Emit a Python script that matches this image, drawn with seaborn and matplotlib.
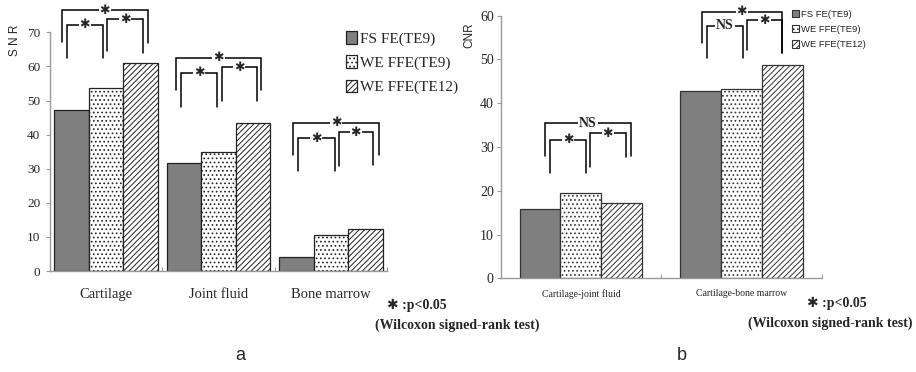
import matplotlib
matplotlib.use("Agg")
import matplotlib.pyplot as plt
import matplotlib.patches as mpatches
import pandas as pd
import seaborn as sns

# --- data ---
SERIES = ["FS FE(TE9)", "WE FFE(TE9)", "WE FFE(TE12)"]

SNR_TISSUES = ["Cartilage", "Joint fluid", "Bone marrow"]
SNR_FS_FE_TE9 = [47.1, 31.8, 4.1]
SNR_WE_FFE_TE9 = [53.7, 34.9, 10.7]
SNR_WE_FFE_TE12 = [61.0, 43.3, 12.4]
SNR_TICKS = [0, 10, 20, 30, 40, 50, 60, 70]

CNR_PAIRS = ["Cartilage-joint fluid", "Cartilage-bone marrow"]
CNR_FS_FE_TE9 = [15.9, 42.8]
CNR_WE_FFE_TE9 = [19.6, 43.2]
CNR_WE_FFE_TE12 = [17.1, 48.7]
CNR_TICKS = [0, 10, 20, 30, 40, 50, 60]

# significance brackets: (x_left, x_right, y_top, y_drop_left, y_drop_right, label)
SNR_BRACKETS = [
    (-0.396, 0.370, 76.5, 67.1, 66.8, "*"),
    (-0.351, -0.031, 72.2, 62.5, 62.5, "*"),
    (0.011, 0.326, 73.9, 64.6, 63.9, "*"),
    (0.620, 1.380, 62.5, 53.1, 53.1, "*"),
    (0.664, 0.991, 58.1, 48.2, 48.2, "*"),
    (1.030, 1.341, 59.7, 50.0, 50.0, "*"),
    (1.662, 2.431, 43.5, 33.9, 33.9, "*"),
    (1.707, 2.033, 39.0, 29.3, 29.3, "*"),
    (2.069, 2.375, 40.7, 30.8, 31.0, "*"),
]
CNR_BRACKETS = [
    (-0.224, 0.312, 35.4, 28.0, 28.0, "NS"),
    (-0.193, 0.032, 31.6, 24.1, 24.1, "*"),
    (0.057, 0.279, 33.1, 25.5, 27.8, "*"),
    (0.752, 1.251, 60.9, 53.7, 51.4, "*"),
    (0.783, 1.012, 57.7, 50.3, 50.3, "NS"),
    (1.037, 1.251, 59.0, 52.2, 51.4, "*"),
]

# --- style ---
FACE = ["#7f7f7f", "white", "white"]
HATCH = [None, "....", "//////"]
SERIF = "Liberation Serif"
SANS = "Liberation Sans"
STAR = "\u2731"

sns.set_theme(style="white")
plt.rcParams["font.family"] = [SERIF, "DejaVu Sans"]
plt.rcParams["hatch.linewidth"] = 0.7


def long_df(cats, a, b, c):
    rows = []
    for s, vals in zip(SERIES, [a, b, c]):
        for cat, v in zip(cats, vals):
            rows.append({"cat": cat, "series": s, "value": v})
    return pd.DataFrame(rows)


def draw_bars(ax, df, cats, width, edge):
    sns.barplot(data=df, x="cat", y="value", hue="series", order=cats,
                hue_order=SERIES, palette=dict(zip(SERIES, FACE)),
                saturation=1, width=width, edgecolor=edge, linewidth=0.9,
                legend=False, ax=ax)
    for i, cont in enumerate(ax.containers):
        for bar in cont:
            if HATCH[i]:
                bar.set_hatch(HATCH[i])


def bracket(ax, x1, x2, y_top, y_l, y_r, label):
    ax.plot([x1, x1, x2, x2], [y_l, y_top, y_top, y_r], color="black",
            lw=1.1, clip_on=False, solid_joinstyle="miter")
    if label == "*":
        ax.text((x1 + x2) / 2, y_top, STAR, ha="center", va="center",
                fontsize=9, family=["DejaVu Sans"],
                bbox=dict(facecolor="white", edgecolor="none", pad=0.6))
    else:
        ax.text((x1 + x2) / 2, y_top, label, ha="center", va="center",
                fontsize=10, fontweight="bold", family=[SERIF],
                bbox=dict(facecolor="white", edgecolor="none", pad=0.6))


def style_axes(ax, ncat, ymax, ticks):
    ax.set_xlim(-0.5, ncat - 0.5)
    ax.set_ylim(0, ymax)
    ax.set_yticks(ticks)
    sns.despine(ax=ax)
    for side in ["left", "bottom"]:
        ax.spines[side].set_color("#9a9a9a")
        ax.spines[side].set_linewidth(1.0)
    ax.set_xlabel("")
    ax.tick_params(axis="y", direction="out", length=3, width=0.8,
                   color="#9a9a9a", left=True)
    ax.tick_params(axis="x", which="major", length=0)
    ax.set_xticks([k + 0.5 for k in range(ncat)], minor=True)
    ax.tick_params(axis="x", which="minor", direction="in", length=3,
                   width=0.8, color="#9a9a9a", bottom=True)


fig = plt.figure(figsize=(9.16, 3.72), dpi=100)

# ---------- panel a : SNR ----------
ax1 = fig.add_axes([50 / 916, 101 / 372, 337 / 916, 238.7 / 372])
draw_bars(ax1, long_df(SNR_TISSUES, SNR_FS_FE_TE9, SNR_WE_FFE_TE9, SNR_WE_FFE_TE12),
          SNR_TISSUES, 0.92, "#222222")
style_axes(ax1, 3, 70, SNR_TICKS)
ax1.tick_params(axis="y", labelsize=9.5, pad=4)
ax1.tick_params(axis="x", which="major", labelsize=10.5, pad=12)
ax1.set_ylabel("S N R", family=[SANS], fontsize=8.5)
ax1.yaxis.set_label_coords(-0.085, 0.968)
for b in SNR_BRACKETS:
    bracket(ax1, *b)

handles = [mpatches.Patch(facecolor=FACE[i], edgecolor="#222222", hatch=HATCH[i],
                          linewidth=0.9, label=SERIES[i]) for i in range(3)]
ax1.legend(handles=handles, loc="upper left", bbox_to_anchor=(346 / 916, 1 - 31 / 372),
           bbox_transform=fig.transFigure, frameon=False, fontsize=11,
           handlelength=0.7, handleheight=0.9, handletextpad=0.2,
           labelspacing=0.62, borderpad=0, borderaxespad=0)

# ---------- panel b : CNR ----------
ax2 = fig.add_axes([500.7 / 916, 93.7 / 372, 321 / 916, 262.6 / 372])
draw_bars(ax2, long_df(CNR_PAIRS, CNR_FS_FE_TE9, CNR_WE_FFE_TE9, CNR_WE_FFE_TE12),
          CNR_PAIRS, 0.765, "#333333")
style_axes(ax2, 2, 60, CNR_TICKS)
ax2.tick_params(axis="y", labelsize=10, pad=2)
ax2.tick_params(axis="x", which="major", labelsize=7, pad=8)
ax2.set_ylabel("CNR", family=[SANS], fontsize=8.5)
ax2.yaxis.set_label_coords(-0.078, 0.926)
for b in CNR_BRACKETS:
    bracket(ax2, *b)

handles = [mpatches.Patch(facecolor=FACE[i], edgecolor="#333333", hatch=HATCH[i],
                          linewidth=0.8, label=SERIES[i]) for i in range(3)]
ax2.legend(handles=handles, loc="upper left", bbox_to_anchor=(792 / 916, 1 - 10 / 372),
           bbox_transform=fig.transFigure, frameon=False,
           prop={"family": SANS, "size": 6.8},
           handlelength=0.7, handleheight=0.8, handletextpad=0.3,
           labelspacing=0.65, borderpad=0, borderaxespad=0)

# ---------- footnotes ----------
note_font = dict(fontsize=10, fontweight="bold", family=[SERIF, "DejaVu Sans"])
fig.text(387 / 916, 1 - 305 / 372, STAR + " :p<0.05", ha="left", va="center", **note_font)
fig.text(375 / 916, 1 - 325 / 372, "(Wilcoxon signed-rank test)", ha="left", va="center", **note_font)
fig.text(807 / 916, 1 - 303 / 372, STAR + " :p<0.05", ha="left", va="center", **note_font)
fig.text(748 / 916, 1 - 323 / 372, "(Wilcoxon signed-rank test)", ha="left", va="center", **note_font)

fig.text(240 / 916, 1 - 356 / 372, "a", ha="center", va="center", family=[SANS], fontsize=13)
fig.text(682 / 916, 1 - 356 / 372, "b", ha="center", va="center", family=[SANS], fontsize=13)

fig.savefig("out.png", dpi=100, facecolor="white")
